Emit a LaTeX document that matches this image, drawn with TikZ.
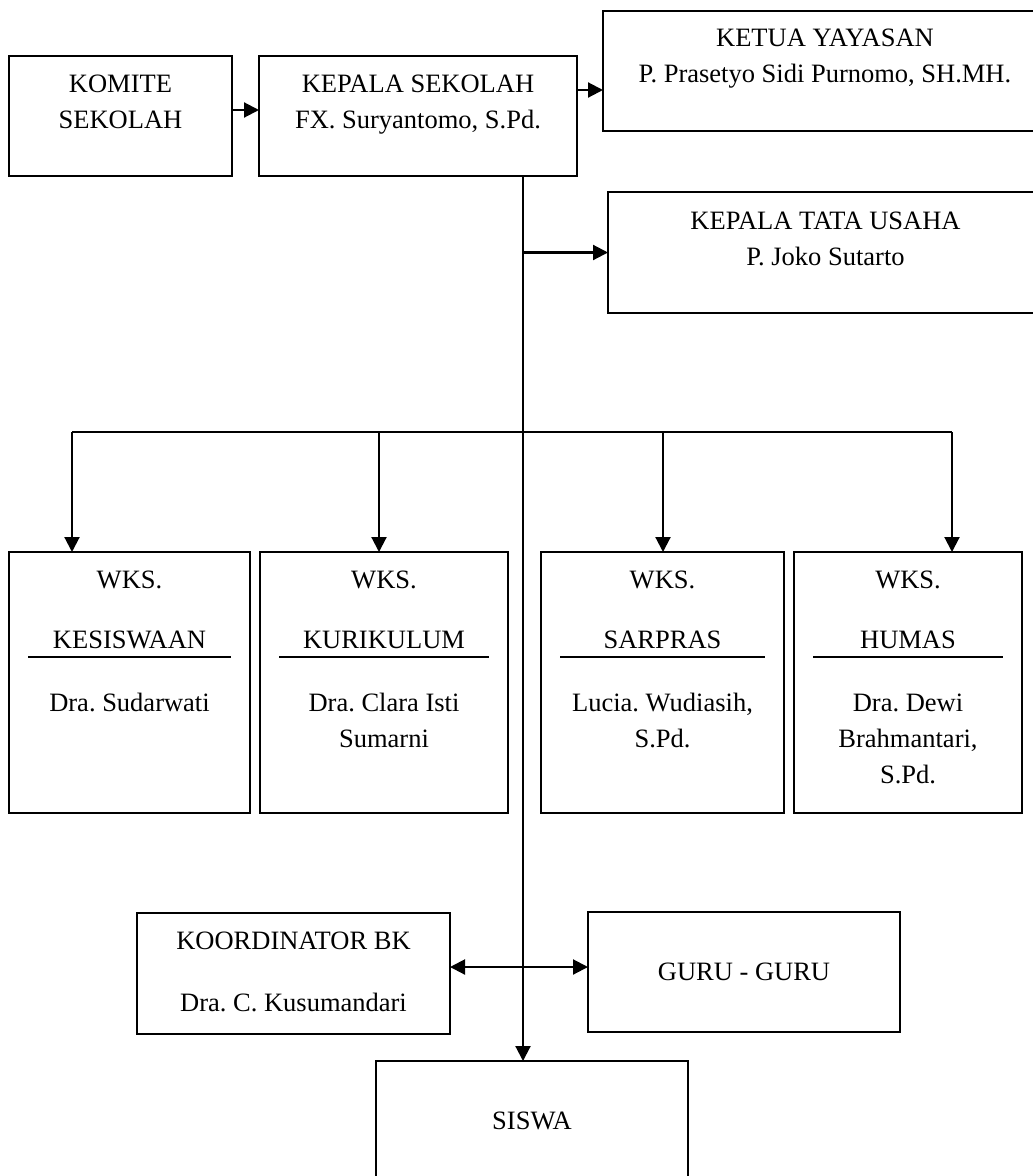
\documentclass[tikz,border=0pt]{standalone}
\usepackage{fontspec}
\setmainfont{Liberation Serif}
\usepackage{tikz}
\usetikzlibrary{positioning, arrows.meta, calc}
\tikzstyle{kotak} = [rectangle, draw=black, line width=1.6pt, inner sep=0pt, outer sep=0pt]
\tikzstyle{isi} = [anchor=north, align=center, inner sep=0pt, yshift=-18.5pt]
\tikzstyle{arrow} = [line width=2.1pt, -{Triangle[length=15pt,width=15pt]}]
\tikzstyle{arrow2} = [line width=2.1pt, {Triangle[length=15pt,width=15pt]}-{Triangle[length=15pt,width=15pt]}]
\tikzstyle{garis} = [line width=1.7pt]
\tikzstyle{every node}=[font=\fontsize{26.5}{36}\selectfont\frenchspacing]

\begin{document}
\begin{tikzpicture}[x=1pt, y=-1pt]
	\useasboundingbox (0,0) rectangle (1033,1176);
	\clip (0,0) rectangle (1033,1176);
		\node (komite) [kotak, line width=2.4pt, minimum width=223pt, minimum height=120pt] at (120.5,116) {};
		\node (kepala) [kotak, line width=2.4pt, minimum width=318pt, minimum height=120pt, right=27pt of komite] {};
		\node (ketua) [kotak, line width=2pt, minimum width=444pt, minimum height=120pt] at (825,71) {};
		\node (tu) [kotak, line width=2pt, minimum width=435pt, minimum height=121pt] at (825.5,252.5) {};
		\node (komite-t) [isi] at (komite.north) {KOMITE\\SEKOLAH};
		\node (kepala-t) [isi] at (kepala.north) {KEPALA SEKOLAH\\FX. Suryantomo, S.Pd.};
		\node (ketua-t) [isi, yshift=1pt] at (ketua.north) {KETUA YAYASAN\\P. Prasetyo Sidi Purnomo, SH.MH.};
		\node (tu-t) [isi, yshift=-1pt] at (tu.north) {KEPALA TATA USAHA\\P. Joko Sutarto};
		\node (kes) [kotak, minimum width=241pt, minimum height=261pt] at (129.5,682.5) {};
		\node (kur) [kotak, minimum width=248pt, minimum height=261pt, right=10pt of kes] {};
		\node (sar) [kotak, minimum width=243pt, minimum height=261pt, right=33pt of kur] {};
		\node (hum) [kotak, minimum width=228pt, minimum height=261pt, right=10pt of sar] {};
		\node (kes-t) [isi] at (kes.north) {WKS.\\[24pt]KESISWAAN\\[27pt]Dra. Sudarwati};
		\node (kur-t) [isi] at (kur.north) {WKS.\\[24pt]KURIKULUM\\[27pt]Dra. Clara Isti\\Sumarni};
		\node (sar-t) [isi] at (sar.north) {WKS.\\[24pt]SARPRAS\\[27pt]Lucia. Wudiasih,\\S.Pd.};
		\node (hum-t) [isi] at (hum.north) {WKS.\\[24pt]HUMAS\\[27pt]Dra. Dewi\\Brahmantari,\\S.Pd.};
		\node (koord) [kotak, minimum width=313pt, minimum height=121pt] at (293.5,973.5) {};
		\node (koord-t) [isi] at (koord.north) {KOORDINATOR BK\\[26pt]Dra. C. Kusumandari};
		\node (guru) [kotak, minimum width=312pt, minimum height=120pt] at (744,972) {GURU - GURU};
		\node (siswa) [kotak, minimum width=312pt, minimum height=120pt] at (532,1121) {SISWA};
		\coordinate (pusat) at (523,176);
		\coordinate (cab) at (523,432);
		\foreach \n in {kes,kur,sar,hum}
			\draw [garis] ([xshift=19pt,yshift=-105pt]\n.north west) -- ([xshift=-19pt,yshift=-105pt]\n.north east);
		\draw [arrow]([yshift=6pt]komite.east) -- ([yshift=6pt]kepala.west);
		\draw [arrow]([yshift=26pt]kepala.east) -- ([yshift=26pt]kepala.east -| ketua.west);
		\draw [arrow](pusat) -- (pusat |- siswa.north);
		\draw [arrow](pusat |- tu.west) -- (tu.west);
		\draw [garis]([xshift=-57.5pt]kes.north |- cab) -- ([xshift=44pt]hum.north |- cab);
		\foreach \n/\d in {kes/-57.5, kur/-5, sar/0.5, hum/44}
			\draw [arrow]([xshift=\d pt]\n.north |- cab) -- ([xshift=\d pt]\n.north);
		\draw [arrow2]([yshift=6.5pt]koord.east) -- ([yshift=6.5pt]koord.east -| guru.west);
	\end{tikzpicture}
\end{document}
